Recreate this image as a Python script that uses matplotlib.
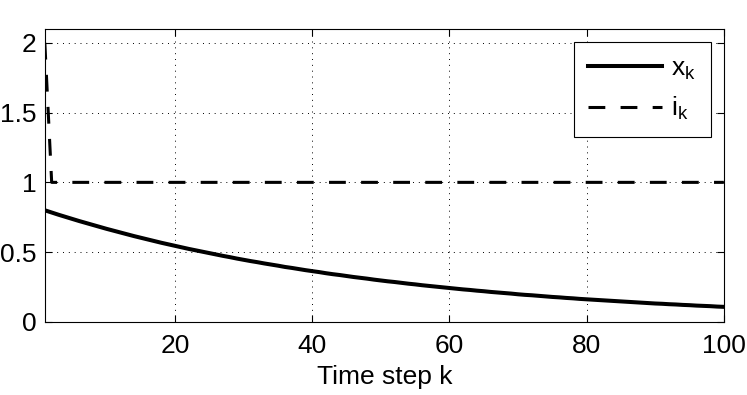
import matplotlib.pyplot as plt

# time steps and the two series
k = list(range(1, 101))
x_k = [0.800, 0.784, 0.768, 0.753, 0.738, 0.723, 0.709, 0.695, 0.681, 0.667,
       0.654, 0.641, 0.628, 0.615, 0.603, 0.591, 0.579, 0.567, 0.556, 0.545,
       0.534, 0.523, 0.513, 0.503, 0.493, 0.483, 0.473, 0.464, 0.454, 0.445,
       0.436, 0.428, 0.419, 0.411, 0.403, 0.394, 0.387, 0.379, 0.371, 0.364,
       0.357, 0.349, 0.342, 0.336, 0.329, 0.322, 0.316, 0.310, 0.303, 0.297,
       0.291, 0.286, 0.280, 0.274, 0.269, 0.263, 0.258, 0.253, 0.248, 0.243,
       0.238, 0.233, 0.229, 0.224, 0.220, 0.215, 0.211, 0.207, 0.203, 0.198,
       0.194, 0.191, 0.187, 0.183, 0.179, 0.176, 0.172, 0.169, 0.165, 0.162,
       0.159, 0.156, 0.153, 0.150, 0.147, 0.144, 0.141, 0.138, 0.135, 0.132,
       0.130, 0.127, 0.125, 0.122, 0.120, 0.117, 0.115, 0.113, 0.110, 0.108]
i_k = [2.0] + [1.0] * 99

xticks = [20, 40, 60, 80, 100]
yticks = [0, 0.5, 1, 1.5, 2]
yticklabels = ['0', '0.5', '1', '1.5', '2']

fam = 'Liberation Sans'
plt.rcParams['font.family'] = [fam, 'DejaVu Sans']
plt.rcParams['mathtext.fontset'] = 'custom'
plt.rcParams['mathtext.rm'] = fam
plt.rcParams['mathtext.it'] = fam

fig = plt.figure(figsize=(7.47, 3.95), dpi=100)
ax = fig.add_axes([0.060, 0.185, 0.909, 0.742])

ax.plot(k, x_k, color='black', linewidth=2.9, label=r'$\mathregular{x_k}$')
ax.plot(k, i_k, color='black', linewidth=2.2, dashes=(5.5, 5),
        label=r'$\mathregular{i_k}$')

ax.set_xlim(1, 100)
ax.set_ylim(0, 2.1)
ax.set_xticks(xticks)
ax.set_yticks(yticks)
ax.set_yticklabels(yticklabels)
ax.tick_params(direction='in', top=True, right=True, labelsize=19,
               length=5, width=0.8)
ax.tick_params(axis='x', pad=9)
ax.tick_params(axis='y', pad=6)
ax.grid(True, color='black', linestyle=(0, (1, 5)), linewidth=0.7)
for s in ax.spines.values():
    s.set_linewidth(0.8)

ax.set_xlabel('Time step k', fontsize=19, labelpad=5)

leg = ax.legend(loc='upper right', fontsize=19, fancybox=False,
                framealpha=1, edgecolor='black', handlelength=2.8,
                handletextpad=0.35, borderpad=0.55, labelspacing=0.5,
                borderaxespad=0.5)
leg.get_frame().set_linewidth(0.8)

plt.savefig('out.png', dpi=100)
